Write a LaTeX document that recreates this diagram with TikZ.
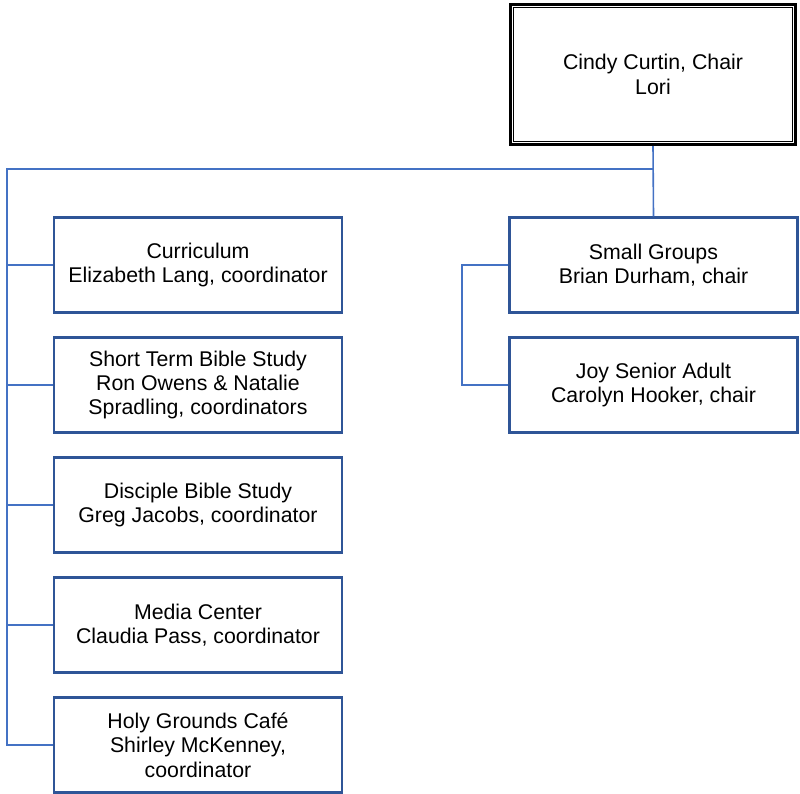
\documentclass[tikz,border=0pt]{standalone}
\usepackage{fontspec}
\setmainfont{Liberation Sans}
\definecolor{boxblue}{HTML}{2F5597}
\definecolor{linkblue}{HTML}{4472C4}
\begin{document}
\begin{tikzpicture}[x=1pt,y=-1pt,
  unit/.style={draw=boxblue,line width=2.5pt,fill=white,minimum width=288pt,minimum height=95pt,
    inner sep=0pt,align=center,font=\fontsize{21.3}{24.3}\selectfont},
  chairbox/.style={draw=black,line width=3pt,minimum width=285pt,minimum height=140pt,
    inner sep=0pt,align=center,font=\fontsize{21.3}{24.3}\selectfont},
  link/.style={draw=linkblue,line width=1.6pt}]
\useasboundingbox (0,0) rectangle (800,793);
\node[chairbox] (chair) at (653,74.5) {Cindy Curtin, Chair\\Lori};
\draw[line width=1.5pt] ([xshift=4.5pt,yshift=-4.5pt]chair.north west) rectangle ([xshift=-4.5pt,yshift=4.5pt]chair.south east);
% left column
\node[unit] (cur) at (198,265) {Curriculum\\Elizabeth Lang, coordinator};
\node[unit] (stbs) at (198,385) {Short Term Bible Study\\Ron Owens \& Natalie\\Spradling, coordinators};
\node[unit] (dbs) at (198,505) {Disciple Bible Study\\Greg Jacobs, coordinator};
\node[unit] (media) at (198,625) {Media Center\\Claudia Pass, coordinator};
\node[unit] (cafe) at (198,745) {Holy Grounds Café\\Shirley McKenney,\\coordinator};
% right column
\node[unit] (small) at (653.5,265) {Small Groups\\Brian Durham, chair};
\node[unit] (joy) at (653.5,385) {Joy Senior Adult\\Carolyn Hooker, chair};
% connectors
\coordinate (hj) at (653,169);
\coordinate (hl) at (7,169);
\draw[link] (chair.south) -- (small.north);
\draw[link] (hj) -- (hl) |- (cafe.west);
\draw[link] (hl |- cur.west) -- (cur.west);
\draw[link] (hl |- stbs.west) -- (stbs.west);
\draw[link] (hl |- dbs.west) -- (dbs.west);
\draw[link] (hl |- media.west) -- (media.west);
\coordinate (rl) at (462,265);
\draw[link] (small.west) -- (rl) |- (joy.west);
\end{tikzpicture}
\end{document}
